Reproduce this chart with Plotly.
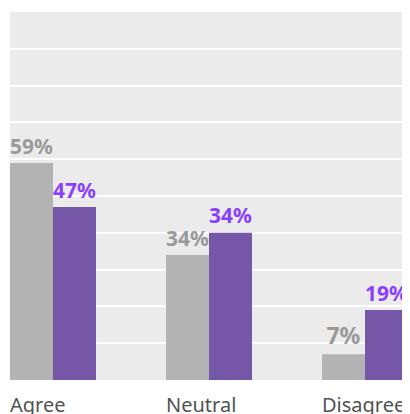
import plotly.graph_objects as go

categories = ["Agree", "Neutral", "Disagree"]
gray_values = [59, 34, 7]
gray_labels = ["59%", "34%", "7%"]
purple_values = [47, 40, 19]
purple_labels = ["47%", "34%", "19%"]

FONT = "Noto Sans"
half = 0.2756

fig = go.Figure()
fig.add_trace(go.Bar(
    x=categories, y=gray_values, text=gray_labels,
    textposition="outside", cliponaxis=False,
    marker=dict(color="#b3b3b3", line=dict(width=0)),
    textfont=dict(family=FONT, size=23, color="#9a9a9a", weight="bold"),
    showlegend=False, hoverinfo="skip",
))
fig.add_trace(go.Bar(
    x=categories, y=purple_values, text=purple_labels,
    textposition="outside", cliponaxis=False,
    marker=dict(color="#7657a7", line=dict(width=0)),
    textfont=dict(family=FONT, size=23, color="#8a3ffc", weight="bold"),
    showlegend=False, hoverinfo="skip",
))

for i, c in enumerate(categories):
    fig.add_annotation(
        x=i - half, xref="x", y=0, yref="paper",
        xanchor="left", yanchor="top", yshift=-9, xshift=-2,
        text=c, showarrow=False,
        font=dict(family=FONT, size=20, color="#525252"),
    )

fig.update_layout(
    width=402, height=406,
    margin=dict(l=2, r=2, t=4, b=34),
    paper_bgcolor="white", plot_bgcolor="#ebebeb",
    barmode="group", bargap=1 - 2 * half, bargroupgap=0,
)
fig.update_xaxes(
    type="category", range=[-half, 2 + half],
    showticklabels=False, showgrid=False, zeroline=False,
    showline=False, ticks="",
)
fig.update_yaxes(
    range=[0, 100], dtick=10, showticklabels=False,
    showgrid=True, gridcolor="white", gridwidth=1.5,
    zeroline=False, showline=False, ticks="",
)

fig.write_html("out.html")
